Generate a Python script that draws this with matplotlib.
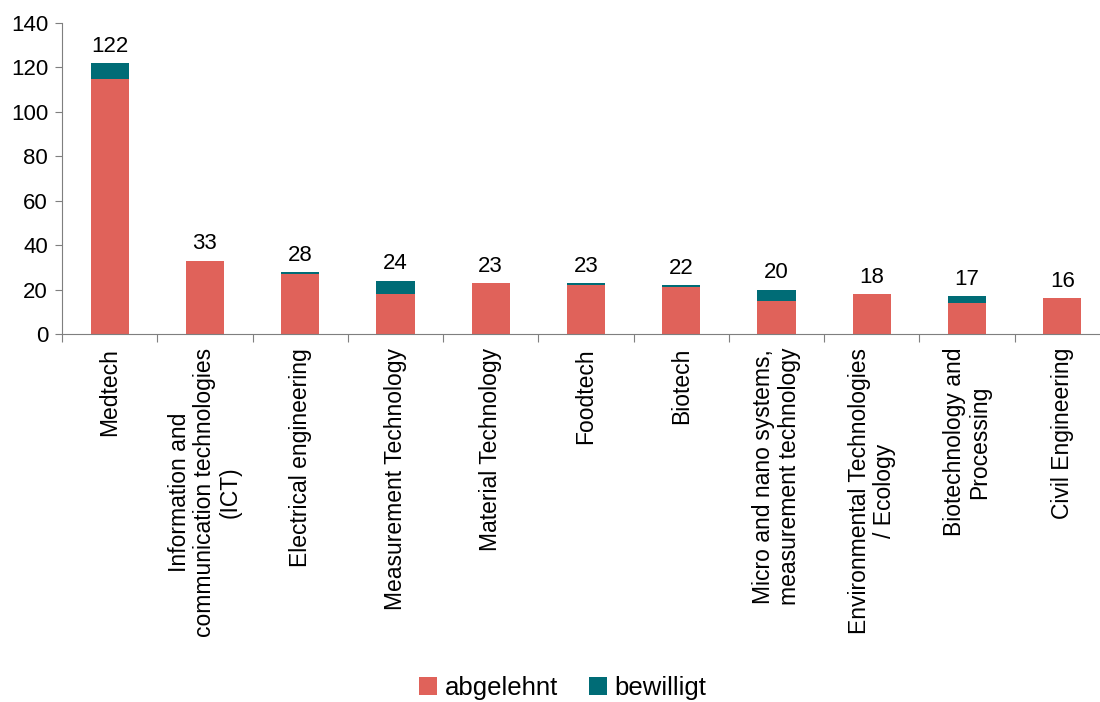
import matplotlib
matplotlib.use("Agg")
import matplotlib.pyplot as plt
import numpy as np

plt.rcParams['font.family'] = ['Liberation Sans', 'DejaVu Sans']

categories = ["Medtech",
              "Information and\ncommunication technologies\n(ICT)",
              "Electrical engineering",
              "Measurement Technology",
              "Material Technology",
              "Foodtech",
              "Biotech",
              "Micro and nano systems,\nmeasurement technology",
              "Environmental Technologies\n/ Ecology",
              "Biotechnology and\nProcessing",
              "Civil Engineering"]
abgelehnt = [115, 33, 27, 18, 23, 22, 21, 15, 18, 14, 16]
bewilligt = [7, 0, 1, 6, 0, 1, 1, 5, 0, 3, 0]
totals = [122, 33, 28, 24, 23, 23, 22, 20, 18, 17, 16]
yticks = [0, 20, 40, 60, 80, 100, 120, 140]

red = "#E0625A"
teal = "#006C76"
axis_col = "#7f7f7f"

fig = plt.figure(figsize=(11, 7.02), dpi=100)
ax = fig.add_axes([62/1100, 1 - 334/702, (1110-62)/1100, (334-23)/702])

x = np.arange(len(categories))
ax.bar(x, abgelehnt, width=0.4, color=red, label="abgelehnt")
ax.bar(x, bewilligt, width=0.4, bottom=abgelehnt, color=teal, label="bewilligt")

for xi, t in zip(x, totals):
    ax.annotate(str(t), (xi, t), xytext=(0, 4.5), textcoords="offset points",
                ha="center", va="bottom", fontsize=16)

ax.set_xlim(-0.5, len(categories) - 0.5)
ax.set_ylim(0, 140)
ax.set_yticks(yticks)
ax.tick_params(axis='y', labelsize=16, length=5, color=axis_col, pad=5)

ax.set_xticks(np.arange(len(categories) + 1) - 0.5)
ax.set_xticklabels([])
ax.tick_params(axis='x', length=6, color=axis_col)
ax.set_xticks(x, minor=True)
ax.set_xticklabels(categories, minor=True, rotation=90, fontsize=16.5,
                   ha='center', va='top', multialignment='center',
                   linespacing=1.12)
ax.tick_params(axis='x', which='minor', length=0, pad=10)

for s in ['top', 'right']:
    ax.spines[s].set_visible(False)
for s in ['left', 'bottom']:
    ax.spines[s].set_color(axis_col)

fig.legend(loc='center', bbox_to_anchor=(563/1100, 1 - 688/702), ncol=2,
           frameon=False, fontsize=18.5, handlelength=0.7, handleheight=0.7,
           handletextpad=0.3, columnspacing=1.2)

fig.savefig("out.png", dpi=100)
